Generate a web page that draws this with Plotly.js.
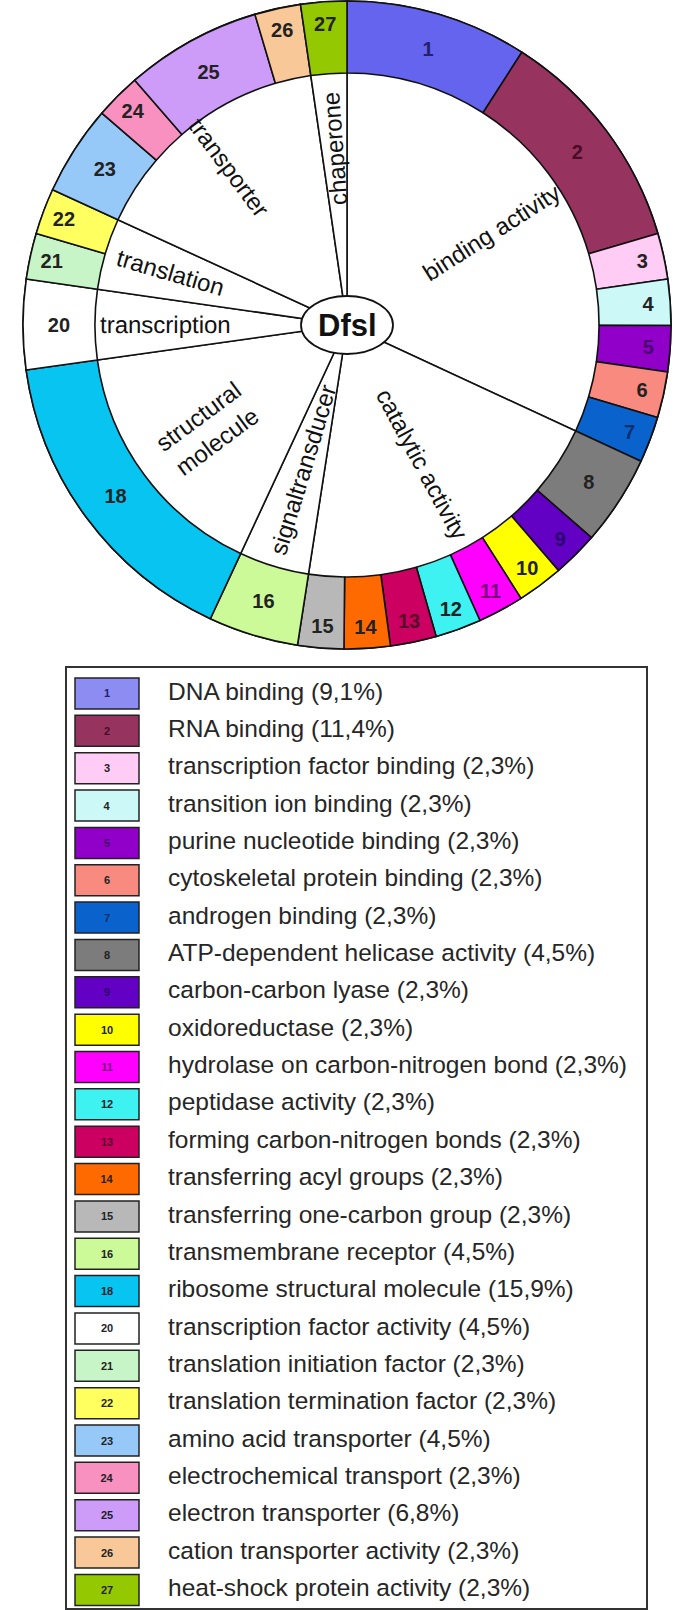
<!DOCTYPE html>
<html><head><meta charset="utf-8">
<script src="https://cdn.plot.ly/plotly-3.0.1.min.js"></script>
<style>html,body{margin:0;padding:0;background:#fff}</style>
</head><body>
<div id="chart" style="width:688px;height:1610px"></div>
<script>
// ---------- data ----------
const ids = ['1','2','3','4','5','6','7','8','9','10','11','12','13','14','15','16','18','20','21','22','23','24','25','26','27'];
const names = [
  'DNA binding','RNA binding','transcription factor binding','transition ion binding',
  'purine nucleotide binding','cytoskeletal protein binding','androgen binding',
  'ATP-dependent helicase activity','carbon-carbon lyase','oxidoreductase',
  'hydrolase on carbon-nitrogen bond','peptidase activity','forming carbon-nitrogen bonds',
  'transferring acyl groups','transferring one-carbon group','transmembrane receptor',
  'ribosome structural molecule','transcription factor activity','translation initiation factor',
  'translation termination factor','amino acid transporter','electrochemical transport',
  'electron transporter','cation transporter activity','heat-shock protein activity'];
const percents = [9.1, 11.4, 2.3, 2.3, 2.3, 2.3, 2.3, 4.5, 2.3, 2.3, 2.3, 2.3, 2.3, 2.3, 2.3, 4.5, 15.9, 4.5, 2.3, 2.3, 4.5, 2.3, 6.8, 2.3, 2.3];
const groupNames = ['binding activity','catalytic activity','signaltransducer','structural<br>molecule','transcription','translation','transporter','chaperone'];
const groupOf = [0,0,0,0,0,0,0, 1,1,1,1,1,1,1,1, 2, 3, 4, 5,5, 6,6,6,6, 7];
const centerLabel = 'Dfsl';

// ---------- styles ----------
const colors = ['#6464ee','#96345f','#ffccf5','#ccf8f8','#9000c8','#f88a80','#0a62cc','#7c7c7c','#6200c4','#ffff00',
  '#ff00ff','#3ef2f2','#cc0060','#ff6a00','#b8b8b8','#ccfa98','#08c4f0','#ffffff','#c8f5c8','#ffff60',
  '#96c8f8','#f890c0','#cc9cf8','#f8c898','#94c800'];
const legendColors = colors.slice(); legendColors[0] = '#8c8cf2';
const numColors = ids.map(id=>({'1':'#22226a','2':'#4a0c28','5':'#4a0070','7':'#0a3070','9':'#2c0070','11':'#7a0a7a','13':'#5a0a2a'}[id]||'#222'));
const labelR = [0.68,0.63,0.60,0.69,0.72,0.73,0.78,0.70];
const W = 688, H = 1610;
const cx = 347, cy = 325, R = 324, hole = 0.778;
const font = 'Liberation Sans, Arial, sans-serif';

// ---------- derived ----------
const groupVals = groupNames.map((g,gi)=>percents.reduce((s,v,i)=>s+(groupOf[i]===gi?v:0),0));
const total = groupVals.reduce((a,b)=>a+b,0);
const dom = {x:[(cx-R)/W,(cx+R)/W], y:[1-(cy+R)/H, 1-(cy-R)/H]};

const innerPie = {type:'pie', values:groupVals, labels:groupNames, sort:false, direction:'clockwise', rotation:0,
  domain:dom, marker:{colors:groupNames.map(()=> '#ffffff'), line:{color:'#111', width:1.6}},
  textinfo:'none', hoverinfo:'skip', showlegend:false};
const ring = {type:'pie', values:percents, labels:ids, text:ids, sort:false, direction:'clockwise', rotation:0,
  hole:hole, domain:dom, marker:{colors:colors, line:{color:'#111', width:1.6}},
  textinfo:'text', textposition:'inside', insidetextorientation:'horizontal',
  textfont:{family:font, size:20, weight:'bold', color:numColors}, hoverinfo:'skip', showlegend:false};

// legend rows via bar + text traces
const legBars = {type:'bar', orientation:'h', y:ids, x:ids.map(()=>64), base:75, width:0.83,
  marker:{color:legendColors, line:{color:'#222', width:1.5}}, text:ids, textposition:'inside',
  insidetextanchor:'middle', constraintext:'none', textangle:0,
  textfont:{family:font, size:11, weight:'bold', color:numColors}, hoverinfo:'skip', showlegend:false,
  xaxis:'x', yaxis:'y'};
const legText = {type:'scatter', mode:'text', y:ids, x:ids.map(()=>168),
  text:names.map((n,i)=>n+' ('+percents[i].toFixed(1).replace('.',',')+'%)'),
  textposition:'middle right', textfont:{family:font, size:24.5, color:'#262626'},
  hoverinfo:'skip', showlegend:false, xaxis:'x', yaxis:'y'};

// category labels along radial direction
const annotations = [];
let cum = 0;
groupVals.forEach((v,gi)=>{
  const mid = (cum + v/2)/total*360; cum += v;
  const th = mid*Math.PI/180;
  const rr = labelR[gi]*R*hole;
  const px = cx + rr*Math.sin(th), py = cy - rr*Math.cos(th);
  let ang = mid - 90;
  while (ang > 180) ang -= 360; while (ang <= -180) ang += 360;
  if (ang > 95) ang -= 180; else if (ang < -100) ang += 180;
  annotations.push({xref:'paper', yref:'paper', x:px/W, y:1-py/H, text:groupNames[gi], showarrow:false,
    textangle:ang, font:{family:font, size:24, color:'#111'}, xanchor:'center', yanchor:'middle'});
});
annotations.push({xref:'paper', yref:'paper', x:cx/W, y:1-cy/H, text:centerLabel, showarrow:false,
  font:{family:font, size:31, weight:'bold', color:'#111'}, xanchor:'center', yanchor:'middle'});

const shapes = [
  {type:'circle', xref:'paper', yref:'paper', x0:(cx-46)/W, x1:(cx+46)/W, y0:1-(cy+29)/H, y1:1-(cy-29)/H,
   fillcolor:'#fff', line:{color:'#111', width:1.8}, layer:'above'},
  {type:'rect', xref:'paper', yref:'paper', x0:66/W, x1:647/W, y0:1-1609/H, y1:1-667/H,
   fillcolor:'rgba(0,0,0,0)', line:{color:'#333', width:2}, layer:'below'}
];

const layout = {width:W, height:H, margin:{l:0,r:0,t:0,b:0}, paper_bgcolor:'#fff', plot_bgcolor:'rgba(0,0,0,0)',
  xaxis:{domain:[0,1], range:[0,W], visible:false, fixedrange:true},
  yaxis:{domain:[1-1608.6/H, 1-674.8/H], type:'category', categoryorder:'array', categoryarray:ids,
    range:[24.5,-0.5], visible:false, fixedrange:true},
  bargap:0, annotations:annotations, shapes:shapes, showlegend:false};

Plotly.newPlot('chart', [legBars, legText, innerPie, ring], layout, {staticPlot:true});
</script>
</body></html>
